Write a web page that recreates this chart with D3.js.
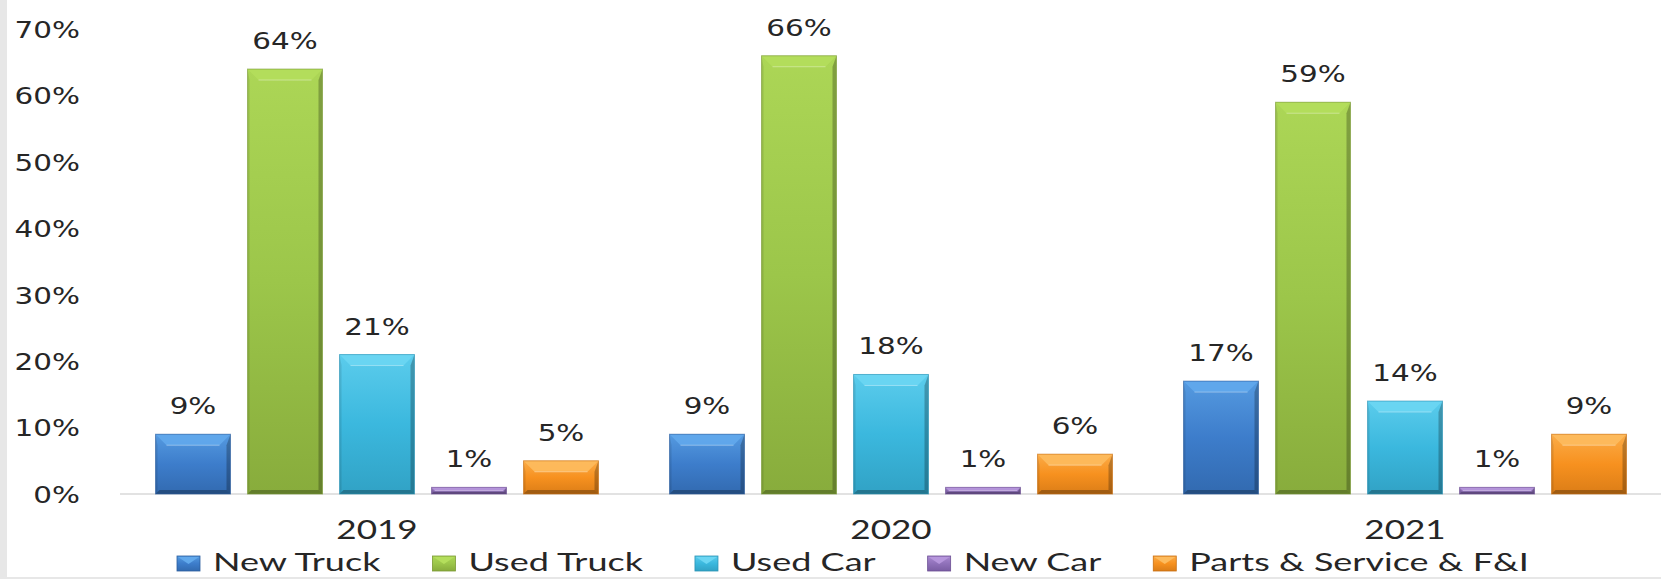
<!DOCTYPE html>
<html>
<head>
<meta charset="utf-8">
<script src="https://cdn.jsdelivr.net/npm/d3@7"></script>
<style>
  html, body { margin: 0; padding: 0; background: #fff; }
  svg { display: block; }
</style>
</head>
<body>
<div id="chart"></div>
<script>
// data
const years = ['2019', '2020', '2021'];
const seriesNames = ['New Truck', 'Used Truck', 'Used Car', 'New Car', 'Parts & Service & F&I'];
const newTruck = [0.09, 0.09, 0.17];
const usedTruck = [0.64, 0.66, 0.59];
const usedCar = [0.21, 0.18, 0.14];
const newCar = [0.01, 0.01, 0.01];
const partsService = [0.05, 0.06, 0.09];
const yTicks = [0, 0.1, 0.2, 0.3, 0.4, 0.5, 0.6, 0.7];

// colour per series: light (top), base, dark (bottom / edge)
const palette = [
    {light: '#62a9ec', base: '#3d7dcb', dark: '#2b5e9e'},
    {light: '#b4de5c', base: '#9cc64a', dark: '#7a9a33'},
    {light: '#6cd6f3', base: '#3bb8de', dark: '#2a93b5'},
    {light: '#b696dc', base: '#9071ba', dark: '#6c4f93'},
    {light: '#fdbb5e', base: '#f7911f', dark: '#c96f12'},
];

const seriesValues = [newTruck, usedTruck, usedCar, newCar, partsService];
const rows = years.map((year, i) => ({
    year: year,
    values: seriesNames.map((name, k) => ({key: k, name: name, value: seriesValues[k][i]})),
}));

const width = 1661;
const height = 579;

const svg = d3.select('#chart').append('svg')
    .attr('width', width)
    .attr('height', height);

// grey frame strips at left / bottom edge
svg.append('rect').attr('x', 0).attr('y', 0).attr('width', 7).attr('height', height).attr('fill', '#e7e7e7');
svg.append('rect').attr('x', 0).attr('y', height - 2).attr('width', width).attr('height', 2).attr('fill', '#e7e7e7');

const defs = svg.append('defs');
palette.forEach((c, k) => {
    const g = defs.append('linearGradient')
        .attr('id', 'grad' + k)
        .attr('x1', 0).attr('y1', 0).attr('x2', 0).attr('y2', 1);
    g.append('stop').attr('offset', '0%').attr('stop-color', d3.interpolateRgb(c.light, c.base)(0.35));
    g.append('stop').attr('offset', '50%').attr('stop-color', c.base);
    g.append('stop').attr('offset', '100%').attr('stop-color', d3.interpolateRgb(c.base, c.dark)(0.6));
});

const x = d3.scaleBand()
    .domain(years)
    .range([120, 1662])
    .paddingInner(0)
    .paddingOuter(0);

// bars take 443 of the 514px band, 17px gaps
const groupPad = (x.bandwidth() - 443) / 2;
const x1 = d3.scaleBand()
    .domain(d3.range(seriesNames.length))
    .range([groupPad, x.bandwidth() - groupPad])
    .paddingInner(17 / 92)
    .paddingOuter(0);

const y = d3.scaleLinear()
    .domain([0, 0.7])
    .range([494, 29.2]);

const numFont = '"DejaVu Sans", Verdana, sans-serif';
const textFont = 'Lato, "Open Sans", sans-serif';
const textColor = '#262626';

// y axis (labels only)
const yAxis = svg.append('g')
    .attr('transform', 'translate(120,0)')
    .call(d3.axisLeft(y).tickValues(yTicks).tickFormat(d3.format('.0%')).tickSize(0));
yAxis.select('.domain').remove();
yAxis.selectAll('text')
    .attr('x', 0)
    .attr('dy', '0.36em')
    .attr('transform', 'translate(-40,0) scale(1.28,1)')
    .attr('fill', textColor)
    .style('font-family', numFont)
    .style('font-size', '23px');

// x axis
const xAxis = svg.append('g')
    .attr('transform', 'translate(0,494)')
    .call(d3.axisBottom(x).tickSize(0));
xAxis.select('.domain').remove();
xAxis.selectAll('text')
    .attr('y', 0)
    .attr('dy', 0)
    .attr('transform', 'translate(0,45) scale(1.3,1)')
    .attr('fill', textColor)
    .style('font-family', textFont)
    .style('font-weight', 400)
    .style('font-size', '27px');

// baseline
svg.append('line')
    .attr('x1', 120).attr('x2', width)
    .attr('y1', y(0)).attr('y2', y(0))
    .attr('stroke', '#d9d9d9')
    .attr('stroke-width', 1.5);

// bars
const groups = svg.append('g').selectAll('g')
    .data(rows)
    .join('g')
    .attr('transform', d => `translate(${x(d.year)},0)`);

const bars = groups.selectAll('g.bar')
    .data(d => d.values)
    .join('g')
    .attr('class', 'bar');

bars.each(function(d) {
    const g = d3.select(this);
    const x0 = x1(d.key);
    const w = x1.bandwidth();
    const y0 = y(d.value);
    const h = y(0) - y0;
    const c = palette[d.key];
    const b = Math.min(11, h / 2);
    const sr = Math.min(4, h / 3);
    const sl = Math.min(2, h / 3);

    g.append('rect')
        .attr('x', x0).attr('y', y0)
        .attr('width', w).attr('height', h)
        .attr('fill', `url(#grad${d.key})`);
    // top bevel
    g.append('polygon')
        .attr('points', [[x0, y0], [x0 + w, y0], [x0 + w - b, y0 + b], [x0 + b, y0 + b]].join(' '))
        .attr('fill', c.light)
        .attr('opacity', 0.9);
    g.append('line')
        .attr('x1', x0 + b).attr('x2', x0 + w - b)
        .attr('y1', y0 + b).attr('y2', y0 + b)
        .attr('stroke', '#fff')
        .attr('stroke-opacity', 0.35);
    // right edge
    g.append('polygon')
        .attr('points', [[x0 + w, y0], [x0 + w, y0 + h], [x0 + w - sr, y0 + h - sr], [x0 + w - sr, y0 + b]].join(' '))
        .attr('fill', '#000')
        .attr('opacity', 0.25);
    // left edge
    g.append('polygon')
        .attr('points', [[x0, y0], [x0, y0 + h], [x0 + sl, y0 + h - sl], [x0 + sl, y0 + b]].join(' '))
        .attr('fill', '#000')
        .attr('opacity', 0.1);
    // bottom edge
    g.append('polygon')
        .attr('points', [[x0, y0 + h], [x0 + w, y0 + h], [x0 + w - sr, y0 + h - sr], [x0 + sr, y0 + h - sr]].join(' '))
        .attr('fill', '#000')
        .attr('opacity', 0.28);
    g.append('rect')
        .attr('x', x0).attr('y', y0)
        .attr('width', w).attr('height', h)
        .attr('fill', 'none')
        .attr('stroke', c.dark)
        .attr('stroke-opacity', 0.6)
        .attr('stroke-width', 1);

    // value label
    g.append('text')
        .attr('transform', `translate(${x0 + w / 2},${y0 - 20}) scale(1.28,1)`)
        .attr('text-anchor', 'middle')
        .attr('fill', textColor)
        .style('font-family', numFont)
        .style('font-size', '23px')
        .text(d3.format('.0%')(d.value));
});

// legend
const legend = svg.append('g').attr('class', 'legend');
const legendScale = 1.47;
let lx = 177;
seriesNames.forEach((name, k) => {
    const c = palette[k];
    const item = legend.append('g');
    item.append('rect')
        .attr('x', lx).attr('y', 556)
        .attr('width', 23).attr('height', 15)
        .attr('fill', `url(#grad${k})`)
        .attr('stroke', c.dark)
        .attr('stroke-width', 0.8);
    item.append('polygon')
        .attr('points', [[lx + 1, 557], [lx + 22, 557], [lx + 11.5, 564]].join(' '))
        .attr('fill', c.light);
    const t = item.append('text')
        .attr('transform', `translate(${lx + 36},571) scale(${legendScale},1)`)
        .attr('fill', textColor)
        .style('font-family', textFont)
        .style('font-weight', 400)
        .style('font-size', '24.5px')
        .text(name);
    const tw = t.node().getComputedTextLength() * legendScale;
    lx = lx + 36 + tw + 52;
});
</script>
</body>
</html>
